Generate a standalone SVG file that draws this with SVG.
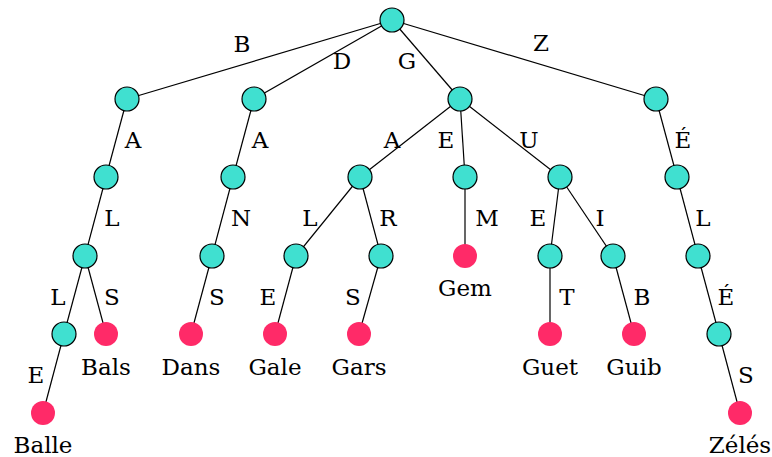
<svg xmlns="http://www.w3.org/2000/svg" width="772" height="457" viewBox="0 0 772 457">
<style>
.e{stroke:#000;stroke-width:1.2;fill:none}
.n{fill:#40E0D0;stroke:#000;stroke-width:1.2}
.l{fill:#FF2A68}
text{font-family:"DejaVu Serif","Liberation Serif",serif;font-size:23px;fill:#000;text-anchor:middle}
</style>
<rect width="772" height="457" fill="#fff"/>
<g id="edges">
<line class="e" x1="392" y1="20" x2="127" y2="99"/>
<line class="e" x1="392" y1="20" x2="254" y2="99"/>
<line class="e" x1="392" y1="20" x2="460" y2="99"/>
<line class="e" x1="392" y1="20" x2="656" y2="99"/>
<line class="e" x1="127" y1="99" x2="106" y2="177"/>
<line class="e" x1="254" y1="99" x2="233" y2="177"/>
<line class="e" x1="460" y1="99" x2="360" y2="177"/>
<line class="e" x1="460" y1="99" x2="465" y2="177"/>
<line class="e" x1="460" y1="99" x2="560" y2="177"/>
<line class="e" x1="656" y1="99" x2="677" y2="177"/>
<line class="e" x1="106" y1="177" x2="85" y2="256"/>
<line class="e" x1="233" y1="177" x2="212" y2="256"/>
<line class="e" x1="360" y1="177" x2="296" y2="256"/>
<line class="e" x1="360" y1="177" x2="381" y2="256"/>
<line class="e" x1="465" y1="177" x2="465" y2="256"/>
<line class="e" x1="560" y1="177" x2="550" y2="256"/>
<line class="e" x1="560" y1="177" x2="613" y2="256"/>
<line class="e" x1="677" y1="177" x2="698" y2="256"/>
<line class="e" x1="85" y1="256" x2="64" y2="334"/>
<line class="e" x1="85" y1="256" x2="106" y2="334"/>
<line class="e" x1="212" y1="256" x2="191" y2="334"/>
<line class="e" x1="296" y1="256" x2="275" y2="334"/>
<line class="e" x1="381" y1="256" x2="359" y2="334"/>
<line class="e" x1="550" y1="256" x2="550" y2="334"/>
<line class="e" x1="613" y1="256" x2="634" y2="334"/>
<line class="e" x1="698" y1="256" x2="719" y2="334"/>
<line class="e" x1="64" y1="334" x2="43" y2="413"/>
<line class="e" x1="719" y1="334" x2="740" y2="413"/>
</g>
<g id="edge-labels">
<text x="242" y="52">B</text>
<text x="342" y="69">D</text>
<text x="407" y="69">G</text>
<text x="541" y="51">Z</text>
<text x="133" y="148">A</text>
<text x="260" y="148">A</text>
<text x="392" y="148">A</text>
<text x="446" y="148">E</text>
<text x="529" y="148">U</text>
<text x="683" y="148">É</text>
<text x="112" y="226">L</text>
<text x="241" y="226">N</text>
<text x="310" y="226">L</text>
<text x="388" y="226">R</text>
<text x="487" y="226">M</text>
<text x="538" y="226">E</text>
<text x="600" y="226">I</text>
<text x="703" y="226">L</text>
<text x="58" y="305">L</text>
<text x="112" y="305">S</text>
<text x="217" y="305">S</text>
<text x="268" y="305">E</text>
<text x="353" y="305">S</text>
<text x="567" y="305">T</text>
<text x="642" y="305">B</text>
<text x="726" y="305">É</text>
<text x="36" y="383">E</text>
<text x="746" y="383">S</text>
</g>
<g id="root"><circle class="n" cx="392" cy="20" r="12"/></g>
<g id="n-B"><circle class="n" cx="127" cy="99" r="12"/></g>
<g id="n-D"><circle class="n" cx="254" cy="99" r="12"/></g>
<g id="n-G"><circle class="n" cx="460" cy="99" r="12"/></g>
<g id="n-Z"><circle class="n" cx="656" cy="99" r="12"/></g>
<g id="n-BA"><circle class="n" cx="106" cy="177" r="12"/></g>
<g id="n-DA"><circle class="n" cx="233" cy="177" r="12"/></g>
<g id="n-GA"><circle class="n" cx="360" cy="177" r="12"/></g>
<g id="n-GE"><circle class="n" cx="465" cy="177" r="12"/></g>
<g id="n-GU"><circle class="n" cx="560" cy="177" r="12"/></g>
<g id="n-ZE"><circle class="n" cx="677" cy="177" r="12"/></g>
<g id="n-BAL"><circle class="n" cx="85" cy="256" r="12"/></g>
<g id="n-DAN"><circle class="n" cx="212" cy="256" r="12"/></g>
<g id="n-GAL"><circle class="n" cx="296" cy="256" r="12"/></g>
<g id="n-GAR"><circle class="n" cx="381" cy="256" r="12"/></g>
<g id="leaf-Gem"><circle class="l" cx="465" cy="256" r="12"/><text x="465" y="296">Gem</text></g>
<g id="n-GUE"><circle class="n" cx="550" cy="256" r="12"/></g>
<g id="n-GUI"><circle class="n" cx="613" cy="256" r="12"/></g>
<g id="n-ZEL"><circle class="n" cx="698" cy="256" r="12"/></g>
<g id="n-BALL"><circle class="n" cx="64" cy="334" r="12"/></g>
<g id="leaf-Bals"><circle class="l" cx="106" cy="334" r="12"/><text x="106" y="375">Bals</text></g>
<g id="leaf-Dans"><circle class="l" cx="191" cy="334" r="12"/><text x="191" y="375">Dans</text></g>
<g id="leaf-Gale"><circle class="l" cx="275" cy="334" r="12"/><text x="275" y="375">Gale</text></g>
<g id="leaf-Gars"><circle class="l" cx="359" cy="334" r="12"/><text x="359" y="375">Gars</text></g>
<g id="leaf-Guet"><circle class="l" cx="550" cy="334" r="12"/><text x="550" y="375">Guet</text></g>
<g id="leaf-Guib"><circle class="l" cx="634" cy="334" r="12"/><text x="634" y="375">Guib</text></g>
<g id="n-ZELE"><circle class="n" cx="719" cy="334" r="12"/></g>
<g id="leaf-Balle"><circle class="l" cx="43" cy="413" r="12"/><text x="43" y="453">Balle</text></g>
<g id="leaf-Zeles"><circle class="l" cx="740" cy="413" r="12"/><text x="740" y="453">Zélés</text></g>
</svg>
